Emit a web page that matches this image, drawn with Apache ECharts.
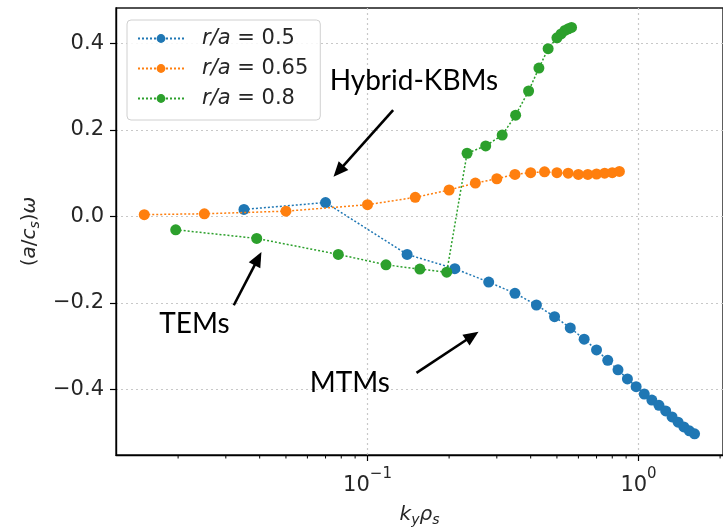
<!DOCTYPE html>
<html><head><meta charset="utf-8">
<script src="https://cdn.jsdelivr.net/npm/echarts@6/dist/echarts.min.js"></script>
<style>html,body{margin:0;padding:0;background:#fff}#c{width:723px;height:532px}</style>
</head><body><div id="c"></div>
<script>
// ---- data ----
const seriesLabels = ['0.5', '0.65', '0.8'];
const seriesNames = ['r/a = 0.5', 'r/a = 0.65', 'r/a = 0.8'];
const seriesColors = ['#1f77b4', '#ff7f0e', '#2ca02c'];

const blueX = [0.035, 0.07, 0.14, 0.21, 0.28, 0.35, 0.42, 0.49, 0.56, 0.63, 0.70, 0.77, 0.84, 0.91, 0.98, 1.05, 1.12, 1.19, 1.26, 1.33, 1.40, 1.47, 1.54, 1.61];
const blueY = [0.016, 0.032, -0.088, -0.121, -0.152, -0.178, -0.205, -0.232, -0.258, -0.284, -0.309, -0.333, -0.355, -0.376, -0.394, -0.411, -0.425, -0.437, -0.450, -0.464, -0.476, -0.487, -0.496, -0.503];

const orangeX = [0.015, 0.025, 0.05, 0.1, 0.15, 0.2, 0.25, 0.3, 0.35, 0.4, 0.45, 0.5, 0.55, 0.6, 0.65, 0.7, 0.75, 0.8, 0.85];
const orangeY = [0.004, 0.006, 0.012, 0.027, 0.044, 0.061, 0.077, 0.087, 0.097, 0.101, 0.103, 0.101, 0.100, 0.097, 0.097, 0.098, 0.100, 0.101, 0.104];

const greenX = [0.0196, 0.039, 0.078, 0.117, 0.156, 0.196, 0.233, 0.273, 0.314, 0.352, 0.393, 0.429, 0.464, 0.500, 0.518, 0.535, 0.551, 0.566];
const greenY = [-0.031, -0.051, -0.088, -0.112, -0.122, -0.129, 0.146, 0.163, 0.188, 0.234, 0.290, 0.343, 0.388, 0.413, 0.422, 0.430, 0.434, 0.437];

const xRange = [0.0118, 2.05];
const yRange = [-0.552, 0.482];
const xMajorTicks = [0.1, 1];
const xMinorTicks = [0.02, 0.03, 0.04, 0.05, 0.06, 0.07, 0.08, 0.09, 0.2, 0.3, 0.4, 0.5, 0.6, 0.7, 0.8, 0.9, 2];
const yTicks = [-0.4, -0.2, 0.0, 0.2, 0.4];

// annotations: [text, textX, textY, arrowTailX, arrowTailY, arrowTipX, arrowTipY]
const annotations = [
  ['Hybrid-KBMs', 0.0725, 0.3136, 0.1243, 0.2456, 0.0749, 0.0914],
  ['TEMs', 0.01703, -0.249, 0.0321, -0.2056, 0.0406, -0.0825],
  ['MTMs', 0.0612, -0.385, 0.1516, -0.362, 0.2568, -0.267]
];

const zip = (xs, ys) => xs.map((x, i) => [x, ys[i]]);
const seriesData = [zip(blueX, blueY), zip(orangeX, orangeY), zip(greenX, greenY)];

const chart = echarts.init(document.getElementById('c'), null, {renderer: 'canvas'});
const FONT = 'DejaVu Sans';
const supMap = {'-1': '−1', '0': '0'};

const option = {
  animation: false,
  backgroundColor: '#fff',
  grid: {left: 116, top: 8, width: 619, height: 455, show: true, borderColor: '#1a1a1a', borderWidth: 1.4, backgroundColor: 'transparent'},
  xAxis: {
    type: 'log', logBase: 10, min: xRange[0], max: xRange[1],
    axisLine: {show: true, onZero: false, lineStyle: {color: '#000', width: 1.4}},
    axisTick: {show: true, length: 6, lineStyle: {color: '#000', width: 1.2}, customValues: xMajorTicks},
    splitLine: {show: true, lineStyle: {color: '#c8c8c8', type: [2, 3], width: 1.2}},
    minorTick: {show: false}, minorSplitLine: {show: false},
    axisLabel: {
      customValues: xMajorTicks, margin: 12,
      formatter: v => '{b|10}{s|' + supMap[String(Math.round(Math.log10(v)))] + '}',
      rich: {b: {fontFamily: FONT, fontSize: 21, color: '#262626', padding: [8, 0, 0, 0]}, s: {fontFamily: FONT, fontSize: 15, color: '#262626', verticalAlign: 'top'}}
    },
    name: '{i|k}{sub|y}{i|ρ}{sub|s}', nameLocation: 'middle', nameGap: 48,
    nameTextStyle: {rich: {i: {fontFamily: FONT, fontStyle: 'italic', fontSize: 20, color: '#262626'}, sub: {fontFamily: FONT, fontStyle: 'italic', fontSize: 14, color: '#262626', padding: [10, 0, 0, 0]}}}
  },
  yAxis: {
    type: 'value', min: yRange[0], max: yRange[1],
    axisLine: {show: true, onZero: false, lineStyle: {color: '#000', width: 1.4}},
    axisTick: {show: true, length: 6, lineStyle: {color: '#000', width: 1.2}, customValues: yTicks},
    splitLine: {show: true, lineStyle: {color: '#c8c8c8', type: [2, 3], width: 1.2}},
    axisLabel: {customValues: yTicks, margin: 12, fontFamily: FONT, fontSize: 21, color: '#262626',
      formatter: v => (v < 0 ? '−' : '') + Math.abs(v).toFixed(1)},
    name: '({i|a}/{i|c}{sub|s}){i|ω}', nameLocation: 'middle', nameGap: 73, nameRotate: 90,
    nameTextStyle: {fontFamily: FONT, fontSize: 20, color: '#262626', rich: {i: {fontFamily: FONT, fontStyle: 'italic', fontSize: 20, color: '#262626'}, sub: {fontFamily: FONT, fontStyle: 'italic', fontSize: 14, color: '#262626', padding: [10, 0, 0, 0]}}}
  },
  legend: {
    left: 127, top: 20, orient: 'vertical',
    data: seriesNames,
    itemWidth: 46, itemHeight: 11, itemGap: 9,
    padding: [8, 12, 11, 10],
    backgroundColor: 'rgba(255,255,255,0.85)', borderColor: '#d0d0d0', borderWidth: 1, borderRadius: 4,
    formatter: name => '{i|r/a}{n| = ' + seriesLabels[seriesNames.indexOf(name)] + '}',
    textStyle: {padding: [0, 0, 0, 13], rich: {
      i: {fontFamily: FONT, fontStyle: 'italic', fontSize: 21, color: '#262626', lineHeight: 24},
      n: {fontFamily: FONT, fontSize: 21, color: '#262626', lineHeight: 24}
    }}
  },
  series: seriesNames.map((name, i) => ({
    name, type: 'line', data: seriesData[i],
    symbol: 'circle', symbolSize: 11,
    lineStyle: {color: seriesColors[i], width: 1.5, type: [2, 2]},
    itemStyle: {color: seriesColors[i]},
    z: 2 + i
  })).concat([{
    type: 'custom', name: 'minorTicks', silent: true, clip: false,
    data: xMinorTicks.map(v => [v, yRange[0]]),
    renderItem: (params, api) => {
      const p = api.coord([api.value(0), api.value(1)]);
      return {type: 'line', shape: {x1: p[0], y1: p[1], x2: p[0], y2: p[1] + 3.5}, style: {stroke: '#000', lineWidth: 1}};
    },
    z: 10
  }])
};
chart.setOption(option);

// annotations positioned via the chart's scales
const gfx = [];
annotations.forEach(a => {
  const t = chart.convertToPixel('grid', [a[1], a[2]]);
  const tail = chart.convertToPixel('grid', [a[3], a[4]]);
  const tip = chart.convertToPixel('grid', [a[5], a[6]]);
  gfx.push({type: 'text', x: t[0], y: t[1], style: {text: a[0], fontFamily: 'Lato', fontSize: 28, fill: '#000', textVerticalAlign: 'middle', textAlign: 'left'}, z: 100});
  const dx = tip[0] - tail[0], dy = tip[1] - tail[1];
  const L = Math.hypot(dx, dy), ux = dx / L, uy = dy / L;
  const hl = 15, hw = 6.5;
  const bx = tip[0] - ux * hl, by = tip[1] - uy * hl;
  gfx.push({type: 'line', shape: {x1: tail[0], y1: tail[1], x2: bx + ux * 2, y2: by + uy * 2}, style: {stroke: '#000', lineWidth: 2.6}, z: 100});
  gfx.push({type: 'polygon', shape: {points: [[tip[0], tip[1]], [bx - uy * hw, by + ux * hw], [bx + uy * hw, by - ux * hw]]}, style: {fill: '#000'}, z: 100});
});
chart.setOption({graphic: gfx});
</script>
</body></html>
